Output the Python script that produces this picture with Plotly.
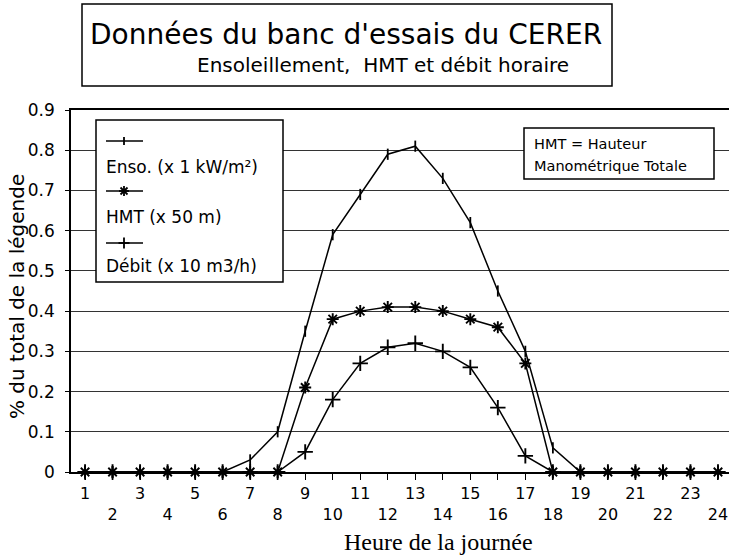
import plotly.graph_objects as go

# ---------------- data ----------------
hours = list(range(1, 25))
enso = [0, 0, 0, 0, 0, 0, 0.03, 0.10, 0.35, 0.59, 0.69, 0.79, 0.81, 0.73,
        0.62, 0.45, 0.30, 0.06, 0, 0, 0, 0, 0, 0]
hmt = [0, 0, 0, 0, 0, 0, 0, 0, 0.21, 0.38, 0.40, 0.41, 0.41, 0.40,
       0.38, 0.36, 0.27, 0, 0, 0, 0, 0, 0, 0]
debit = [0, 0, 0, 0, 0, 0, 0, 0, 0.05, 0.18, 0.27, 0.31, 0.32, 0.30,
         0.26, 0.16, 0.04, 0, 0, 0, 0, 0, 0, 0]
series_names = ["Enso. (x 1 kW/m²)", "HMT (x 50 m)", "Débit (x 10 m3/h)"]
y_ticks = [0, 0.1, 0.2, 0.3, 0.4, 0.5, 0.6, 0.7, 0.8, 0.9]
y_ticktext = ["0", "0.1", "0.2", "0.3", "0.4", "0.5", "0.6", "0.7", "0.8", "0.9"]
x_ticktext = [str(h) if h % 2 else "<br>" + str(h) for h in hours]

title_text = "Données du banc d'essais du CERER"
subtitle_text = "Ensoleillement,  HMT et débit horaire"
note_lines = ["HMT = Hauteur", "Manométrique Totale"]

FONT = "DejaVu Sans"
W, H = 729, 559
ML, MR, MT, MB = 71, 0, 110, 87
PW, PH = W - ML - MR, H - MT - MB


def px(x):
    return (x - ML) / PW


def py(y):
    return (H - MB - y) / PH


fig = go.Figure()
fig.add_trace(go.Scatter(
    x=hours, y=enso, mode="lines+markers", name=series_names[0],
    line=dict(color="black", width=1.5),
    marker=dict(symbol="line-ns-open", size=8, color="black",
                line=dict(color="black", width=1.8)),
    cliponaxis=False, showlegend=False))
fig.add_trace(go.Scatter(
    x=hours, y=hmt, mode="lines+markers", name=series_names[1],
    line=dict(color="black", width=1.5),
    marker=dict(symbol="asterisk-open", size=10, color="black",
                line=dict(color="black", width=1.9)),
    cliponaxis=False, showlegend=False))
fig.add_trace(go.Scatter(
    x=hours, y=debit, mode="lines+markers", name=series_names[2],
    line=dict(color="black", width=1.5),
    marker=dict(symbol="cross-thin-open", size=11, color="black",
                line=dict(color="black", width=1.9)),
    cliponaxis=False, showlegend=False))

shapes = []
annotations = []

# title box
shapes.append(dict(type="rect", xref="paper", yref="paper",
                   x0=px(82), x1=px(612), y0=py(86), y1=py(4),
                   line=dict(color="black", width=1.5), fillcolor="white"))
annotations.append(dict(xref="paper", yref="paper", x=px(346), y=py(34),
                        text=title_text, showarrow=False,
                        font=dict(family=FONT, size=28, color="black"),
                        xanchor="center", yanchor="middle"))
annotations.append(dict(xref="paper", yref="paper", x=px(383), y=py(65),
                        text=subtitle_text, showarrow=False,
                        font=dict(family=FONT, size=20, color="black"),
                        xanchor="center", yanchor="middle"))

# legend box
shapes.append(dict(type="rect", xref="paper", yref="paper",
                   x0=px(96), x1=px(283), y0=py(282), y1=py(120),
                   line=dict(color="black", width=1.5), fillcolor="white",
                   layer="above"))
sample_y = [141, 191, 243]
label_y = [167, 217, 266]
for i, name in enumerate(series_names):
    yy = sample_y[i]
    shapes.append(dict(type="line", xref="paper", yref="paper",
                       x0=px(106), x1=px(143), y0=py(yy), y1=py(yy),
                       line=dict(color="black", width=1.5), layer="above"))
    annotations.append(dict(xref="paper", yref="paper", x=px(104), y=py(label_y[i]),
                            text=name, showarrow=False,
                            font=dict(family=FONT, size=17, color="black"),
                            xanchor="left", yanchor="middle"))
# legend marker glyphs
cx = 124
shapes.append(dict(type="line", xref="paper", yref="paper",
                   x0=px(cx), x1=px(cx), y0=py(sample_y[0] - 4), y1=py(sample_y[0] + 4),
                   line=dict(color="black", width=1.8), layer="above"))
for dx, dy in [(0, 5), (5, 0), (3.5, 3.5), (3.5, -3.5)]:
    shapes.append(dict(type="line", xref="paper", yref="paper",
                       x0=px(cx - dx), x1=px(cx + dx),
                       y0=py(sample_y[1] - dy), y1=py(sample_y[1] + dy),
                       line=dict(color="black", width=1.8), layer="above"))
for dx, dy in [(0, 5.5), (5.5, 0)]:
    shapes.append(dict(type="line", xref="paper", yref="paper",
                       x0=px(cx - dx), x1=px(cx + dx),
                       y0=py(sample_y[2] - dy), y1=py(sample_y[2] + dy),
                       line=dict(color="black", width=1.8), layer="above"))

# note box
shapes.append(dict(type="rect", xref="paper", yref="paper",
                   x0=px(524), x1=px(714), y0=py(179), y1=py(128),
                   line=dict(color="black", width=1.5), fillcolor="white",
                   layer="above"))
for i, t in enumerate(note_lines):
    annotations.append(dict(xref="paper", yref="paper", x=px(532), y=py([144, 166][i]),
                            text=t, showarrow=False,
                            font=dict(family=FONT, size=14.5, color="black"),
                            xanchor="left", yanchor="middle"))

# axis titles
annotations.append(dict(xref="paper", yref="paper", x=px(17), y=py(297),
                        text="% du total de la légende", textangle=-90,
                        showarrow=False,
                        font=dict(family=FONT, size=20, color="black"),
                        xanchor="center", yanchor="middle"))
annotations.append(dict(xref="paper", yref="paper", x=px(438), y=py(542),
                        text="Heure de la journée", showarrow=False,
                        font=dict(family="Liberation Serif", size=24, color="black"),
                        xanchor="center", yanchor="middle"))

fig.update_layout(
    width=W, height=H,
    margin=dict(l=ML, r=MR, t=MT, b=MB),
    paper_bgcolor="white", plot_bgcolor="white",
    font=dict(family=FONT, size=16, color="black"),
    shapes=shapes, annotations=annotations,
    xaxis=dict(range=[0.49, 24.40], tickmode="array", tickvals=hours,
               ticktext=x_ticktext, ticks="outside", ticklen=6,
               tickcolor="black", showline=True, linecolor="black",
               linewidth=1.5, mirror=True, showgrid=False, zeroline=False,
               tickfont=dict(family=FONT, size=16, color="black"),
               fixedrange=True),
    yaxis=dict(range=[0, 0.9], tickmode="array", tickvals=y_ticks,
               ticktext=y_ticktext, ticks="outside", ticklen=4,
               tickcolor="black", showline=True, linecolor="black",
               linewidth=1.5, showgrid=True, gridcolor="#333333",
               gridwidth=1, zeroline=False, ticklabelstandoff=7,
               tickfont=dict(family=FONT, size=17, color="black"),
               fixedrange=True),
)

fig.write_html("out.html", config={"displayModeBar": False},
               post_script="document.body.style.margin='0px';"
                           "document.body.style.overflow='hidden';")
